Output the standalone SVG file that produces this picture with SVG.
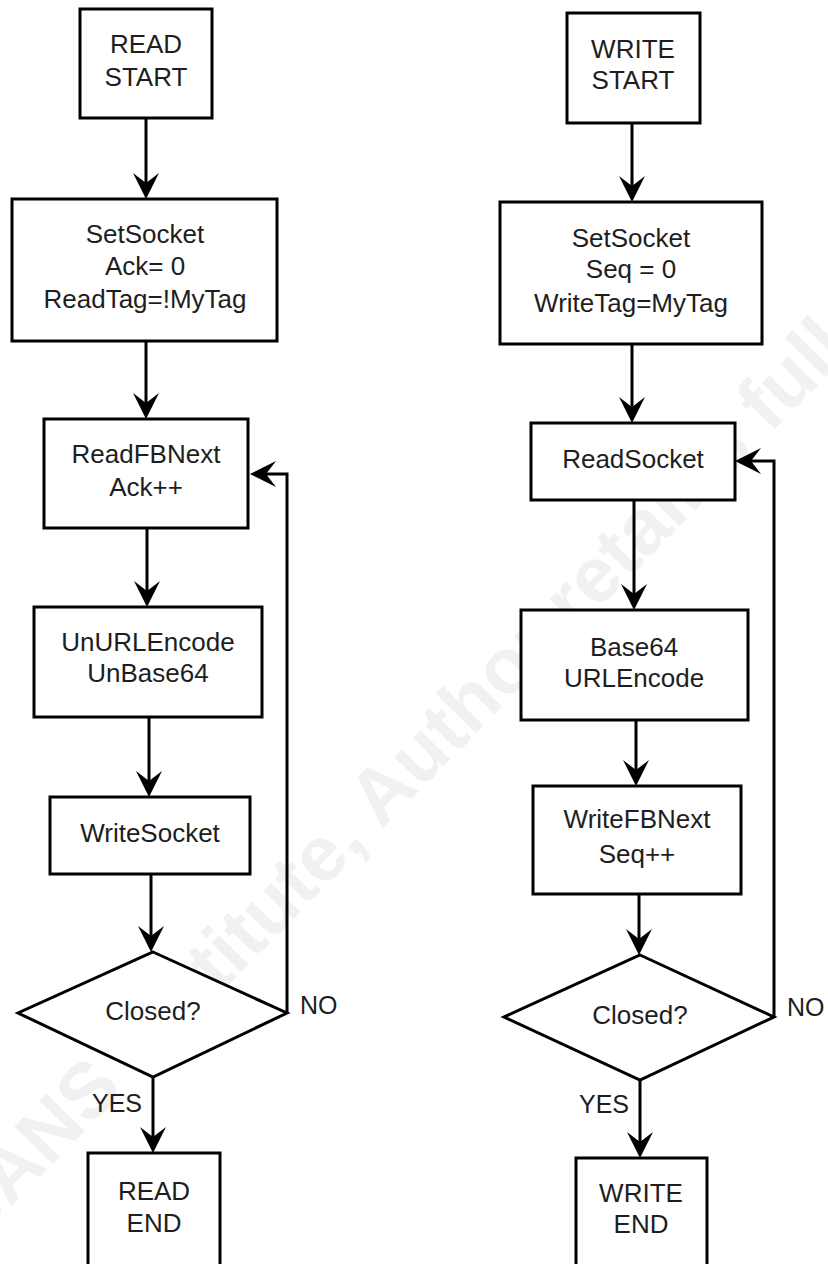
<svg xmlns="http://www.w3.org/2000/svg" width="828" height="1264" viewBox="0 0 828 1264">
  <style>
    .box { fill: #ffffff; stroke: #000000; stroke-width: 3; }
    .lbl { font-family: "Liberation Sans", Arial, sans-serif; font-size: 26px; fill: #1e1e1e; text-anchor: middle; }
    .tag { font-family: "Liberation Sans", Arial, sans-serif; font-size: 25px; fill: #1e1e1e; }
    .edge { fill: none; stroke: #000000; stroke-width: 3; marker-end: url(#head); }
    .wm { font-family: "Liberation Sans", Arial, sans-serif; font-weight: bold; font-size: 78px; fill: #f1f1f1; }
  </style>
  <defs>
    <!-- barbed arrowhead; tip sits 14px past the end of the line -->
    <marker id="head" markerUnits="userSpaceOnUse" viewBox="0 -14 28 28" markerWidth="28" markerHeight="28" refX="12" refY="0" orient="auto">
      <path d="M26,0 L0,-13 L10,0 L0,13 Z" fill="#000000"/>
    </marker>
  </defs>

  <rect width="828" height="1264" fill="#ffffff"/>

  <!-- background watermark -->
  <text class="wm" transform="translate(-27,1245) rotate(-45.5)">SANS Institute, Author retains full rights</text>

  <!-- connectors -->
  <g id="connectors">
    <!-- read path -->
    <path class="edge" d="M146,118 V185"/>
    <path class="edge" d="M146,341 V405"/>
    <path class="edge" d="M147,528 V593"/>
    <path class="edge" d="M149,717 V783"/>
    <path class="edge" d="M151,874 V938"/>
    <path class="edge" d="M287,1013 V474 H264"/>
    <path class="edge" d="M153,1077 V1139"/>
    <!-- write path -->
    <path class="edge" d="M632,123 V188"/>
    <path class="edge" d="M632,344 V409"/>
    <path class="edge" d="M634,500 V596"/>
    <path class="edge" d="M636,720 V772"/>
    <path class="edge" d="M639,894 V941"/>
    <path class="edge" d="M774,1017 V461 H749"/>
    <path class="edge" d="M640,1080 V1144"/>
    <!-- branch labels -->
    <text class="tag" x="300" y="1014">NO</text>
    <text class="tag" x="142" y="1112" text-anchor="end">YES</text>
    <text class="tag" x="787" y="1016">NO</text>
    <text class="tag" x="629" y="1113" text-anchor="end">YES</text>
  </g>

  <!-- read flow -->
  <g id="read-start">
    <rect class="box" x="80" y="9" width="132" height="109"/>
    <text class="lbl" x="146" y="53">READ</text>
    <text class="lbl" x="146" y="86">START</text>
  </g>
  <g id="read-setsocket">
    <rect class="box" x="12" y="199" width="265" height="142"/>
    <text class="lbl" x="145" y="243">SetSocket</text>
    <text class="lbl" x="145" y="275">Ack= 0</text>
    <text class="lbl" x="145" y="308">ReadTag=!MyTag</text>
  </g>
  <g id="read-fbnext">
    <rect class="box" x="44" y="419" width="204" height="109"/>
    <text class="lbl" x="146" y="463">ReadFBNext</text>
    <text class="lbl" x="146" y="496">Ack++</text>
  </g>
  <g id="read-decode">
    <rect class="box" x="34" y="607" width="228" height="110"/>
    <text class="lbl" x="148" y="651">UnURLEncode</text>
    <text class="lbl" x="148" y="682">UnBase64</text>
  </g>
  <g id="read-writesocket">
    <rect class="box" x="50" y="797" width="200" height="77"/>
    <text class="lbl" x="150" y="842">WriteSocket</text>
  </g>
  <g id="read-closed">
    <polygon class="box" points="153,952 287,1013 153,1077 18,1013"/>
    <text class="lbl" x="153" y="1020">Closed?</text>
  </g>
  <g id="read-end">
    <rect class="box" x="88" y="1153" width="132" height="120"/>
    <text class="lbl" x="154" y="1200">READ</text>
    <text class="lbl" x="154" y="1232">END</text>
  </g>

  <!-- write flow -->
  <g id="write-start">
    <rect class="box" x="567" y="13" width="133" height="110"/>
    <text class="lbl" x="633" y="58">WRITE</text>
    <text class="lbl" x="633" y="89">START</text>
  </g>
  <g id="write-setsocket">
    <rect class="box" x="500" y="202" width="262" height="142"/>
    <text class="lbl" x="631" y="247">SetSocket</text>
    <text class="lbl" x="631" y="278">Seq = 0</text>
    <text class="lbl" x="631" y="312">WriteTag=MyTag</text>
  </g>
  <g id="write-readsocket">
    <rect class="box" x="531" y="423" width="204" height="77"/>
    <text class="lbl" x="633" y="468">ReadSocket</text>
  </g>
  <g id="write-encode">
    <rect class="box" x="521" y="610" width="227" height="110"/>
    <text class="lbl" x="634" y="656">Base64</text>
    <text class="lbl" x="634" y="687">URLEncode</text>
  </g>
  <g id="write-fbnext">
    <rect class="box" x="533" y="786" width="208" height="108"/>
    <text class="lbl" x="637" y="828">WriteFBNext</text>
    <text class="lbl" x="637" y="863">Seq++</text>
  </g>
  <g id="write-closed">
    <polygon class="box" points="640,955 774,1017 640,1080 504,1017"/>
    <text class="lbl" x="640" y="1024">Closed?</text>
  </g>
  <g id="write-end">
    <rect class="box" x="576" y="1158" width="131" height="120"/>
    <text class="lbl" x="641" y="1202">WRITE</text>
    <text class="lbl" x="641" y="1233">END</text>
  </g>
</svg>
